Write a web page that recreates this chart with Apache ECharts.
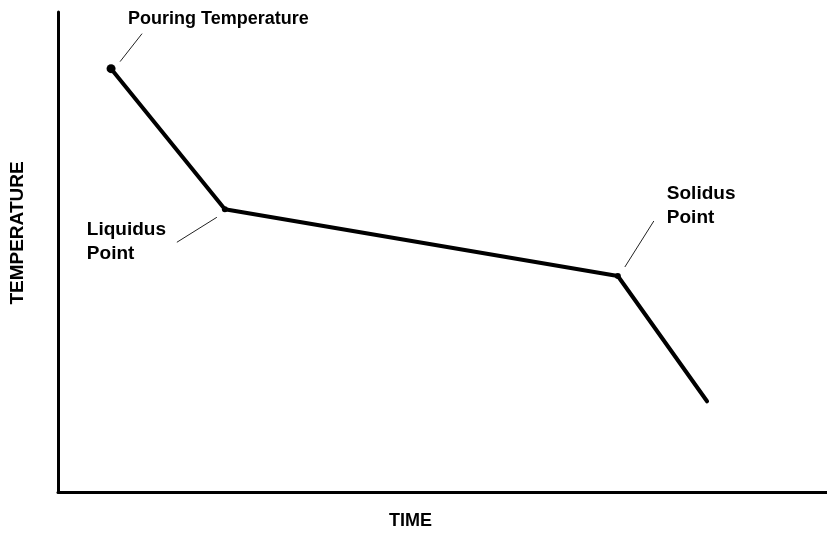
<!DOCTYPE html>
<html>
<head>
<meta charset="utf-8">
<title>Cooling curve</title>
<script src="https://cdn.jsdelivr.net/npm/echarts@6/dist/echarts.min.js"></script>
<style>
  html, body { margin: 0; padding: 0; background: #fff; }
  #chart { width: 827px; height: 535px; }
</style>
</head>
<body>
<div id="chart"></div>
<script>
// cooling curve, values on a 0-100 scale (no ticks shown)
const time = [6.9, 21.7, 72.8, 84.4]
const temperature = [88.2, 58.9, 45.0, 18.9]
const pointNames = ["Pouring Temperature", "Liquidus\nPoint", "Solidus\nPoint", ""]
const dotSizes = [9, 6, 6, 0]

// label placement relative to its point, in pixels
const notes = [
  { idx: 0, size: 18, tx: 17, ty: -61.5, l1: [9, -7], l2: [31, -35] },
  { idx: 1, size: 19, tx: -138, ty: 8.5, l1: [-48, 33], l2: [-8, 8] },
  { idx: 2, size: 19, tx: 49, ty: -94, l1: [7, -9], l2: [36, -55] },
]

const font = "'Liberation Sans', Arial, sans-serif"
const chart = echarts.init(document.getElementById("chart"))

chart.setOption({
  animation: false,
  grid: { left: 57, right: 0, top: 12, bottom: 41 },
  xAxis: {
    type: "value",
    min: 0,
    max: 100,
    name: "TIME",
    nameLocation: "middle",
    nameGap: 20,
    nameTextStyle: { fontFamily: font, fontWeight: "bold", fontSize: 18, color: "#000", padding: [0, 64, 0, 0] },
    axisLine: { lineStyle: { color: "#000", width: 3 } },
    axisTick: { show: false },
    axisLabel: { show: false },
    splitLine: { show: false },
  },
  yAxis: {
    type: "value",
    min: 0,
    max: 100,
    name: "TEMPERATURE",
    nameLocation: "middle",
    nameRotate: 90,
    nameGap: 31,
    nameTextStyle: { fontFamily: font, fontWeight: "bold", fontSize: 19, color: "#000", padding: [0, 0, 0, 38] },
    axisLine: { show: true, lineStyle: { color: "#000", width: 3 } },
    axisTick: { show: false },
    axisLabel: { show: false },
    splitLine: { show: false },
  },
  series: [
    {
      type: "line",
      data: time.map((t, i) => [t, temperature[i]]),
      symbol: "circle",
      symbolSize: (v, p) => dotSizes[p.dataIndex],
      itemStyle: { color: "#000" },
      lineStyle: { color: "#000", width: 4, cap: "round", join: "round" },
    },
  ],
})

// leader lines and notes placed from the data points
const graphics = []
notes.forEach((n) => {
  const p = chart.convertToPixel({ gridIndex: 0 }, [time[n.idx], temperature[n.idx]])
  graphics.push({
    type: "line",
    shape: { x1: p[0] + n.l1[0], y1: p[1] + n.l1[1], x2: p[0] + n.l2[0], y2: p[1] + n.l2[1] },
    style: { stroke: "#222", lineWidth: 1 },
  })
  graphics.push({
    type: "text",
    x: p[0] + n.tx,
    y: p[1] + n.ty,
    style: {
      text: pointNames[n.idx],
      font: "bold " + n.size + "px " + font,
      lineHeight: 24,
      fill: "#000",
      verticalAlign: "top",
      align: "left",
    },
  })
})
chart.setOption({ graphic: graphics })
</script>
</body>
</html>
